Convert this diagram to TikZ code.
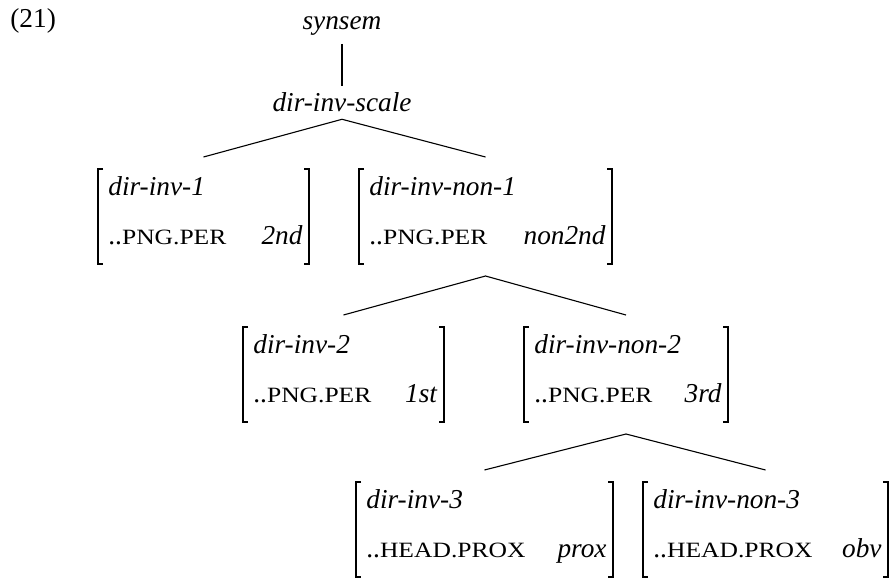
\documentclass[tikz,border=0pt]{standalone}
\usepackage{fontspec}
\setmainfont{Liberation Serif}
\newfontfamily\scfam[FakeStretch=1.17]{Liberation Serif}
\newcommand\smc[1]{{\scfam\fontsize{10.92}{12}\selectfont #1}}
\usetikzlibrary{calc}
% name, cx, cy, width(px), type, attribute, value
\newcommand\avm[7]{%
  \node[avmbox, minimum width={#4*0.5pt}] (#1) at (#2,#3) {};
  \draw[brk] ([xshift=2.5pt,yshift=-6pt]#1.north west) -- ([yshift=-6pt]#1.north west)
     -- ([yshift=6pt]#1.south west) -- ([xshift=2.5pt,yshift=6pt]#1.south west);
  \draw[brk] ([xshift=-2.5pt,yshift=-6pt]#1.north east) -- ([yshift=-6pt]#1.north east)
     -- ([yshift=6pt]#1.south east) -- ([xshift=-2.5pt,yshift=6pt]#1.south east);
  \node[txt, anchor=base west] (#1-t) at ([xshift=5pt,yshift=-19pt]#1.north west) {\textit{#5}};
  \node[txt, anchor=base west] (#1-a) at ([xshift=5pt,yshift=-43.5pt]#1.north west) {#6};
  \node[txt, anchor=base east] (#1-v) at ([xshift=-3pt,yshift=-43.5pt]#1.north east) {\textit{#7}};
}
\begin{document}
\begin{tikzpicture}[x=0.5pt,y=-0.5pt,
  txt/.style={inner sep=0pt, font=\fontsize{13.65}{16}\selectfont},
  treelbl/.style={txt, outer ysep=4pt},
  avmbox/.style={inner sep=0pt, outer xsep=0pt, outer ysep=6pt, minimum height=47.5pt},
  brk/.style={line width=0.65pt},
  edge/.style={line width=0.55pt}]
\useasboundingbox (0,0) rectangle (891,578);

\node[txt, anchor=base west] (ex) at (10,27) {(21)};
\node[treelbl, anchor=base] (synsem) at (342,30) {\textit{synsem}};
\node[treelbl, anchor=base, outer ysep=3.5pt] (scale) at (342,112) {\textit{dir-inv-scale}};

\avm{avm1}{203.5}{216.5}{211}{dir-inv-1}{..\smc{PNG.PER}}{2nd}
\avm{avm2}{485.5}{216.5}{253}{dir-inv-non-1}{..\smc{PNG.PER}}{non2nd}
\avm{avm3}{343.5}{374.5}{201}{dir-inv-2}{..\smc{PNG.PER}}{1st}
\avm{avm4}{626}{374.5}{204}{dir-inv-non-2}{..\smc{PNG.PER}}{3rd}
\avm{avm5}{484.5}{529.5}{257}{dir-inv-3}{..\smc{HEAD.PROX}}{prox}
\avm{avm6}{765.5}{529.5}{245}{dir-inv-non-3}{..\smc{HEAD.PROX}}{obv}

\draw[edge] (synsem) -- (scale);
\draw[edge] (avm1.north) -- (scale.south) -- (avm2.north);
\draw[edge] (avm3.north) -- (avm2.south) -- (avm4.north);
\draw[edge] (avm5.north) -- (avm4.south) -- (avm6.north);
\end{tikzpicture}
\end{document}
